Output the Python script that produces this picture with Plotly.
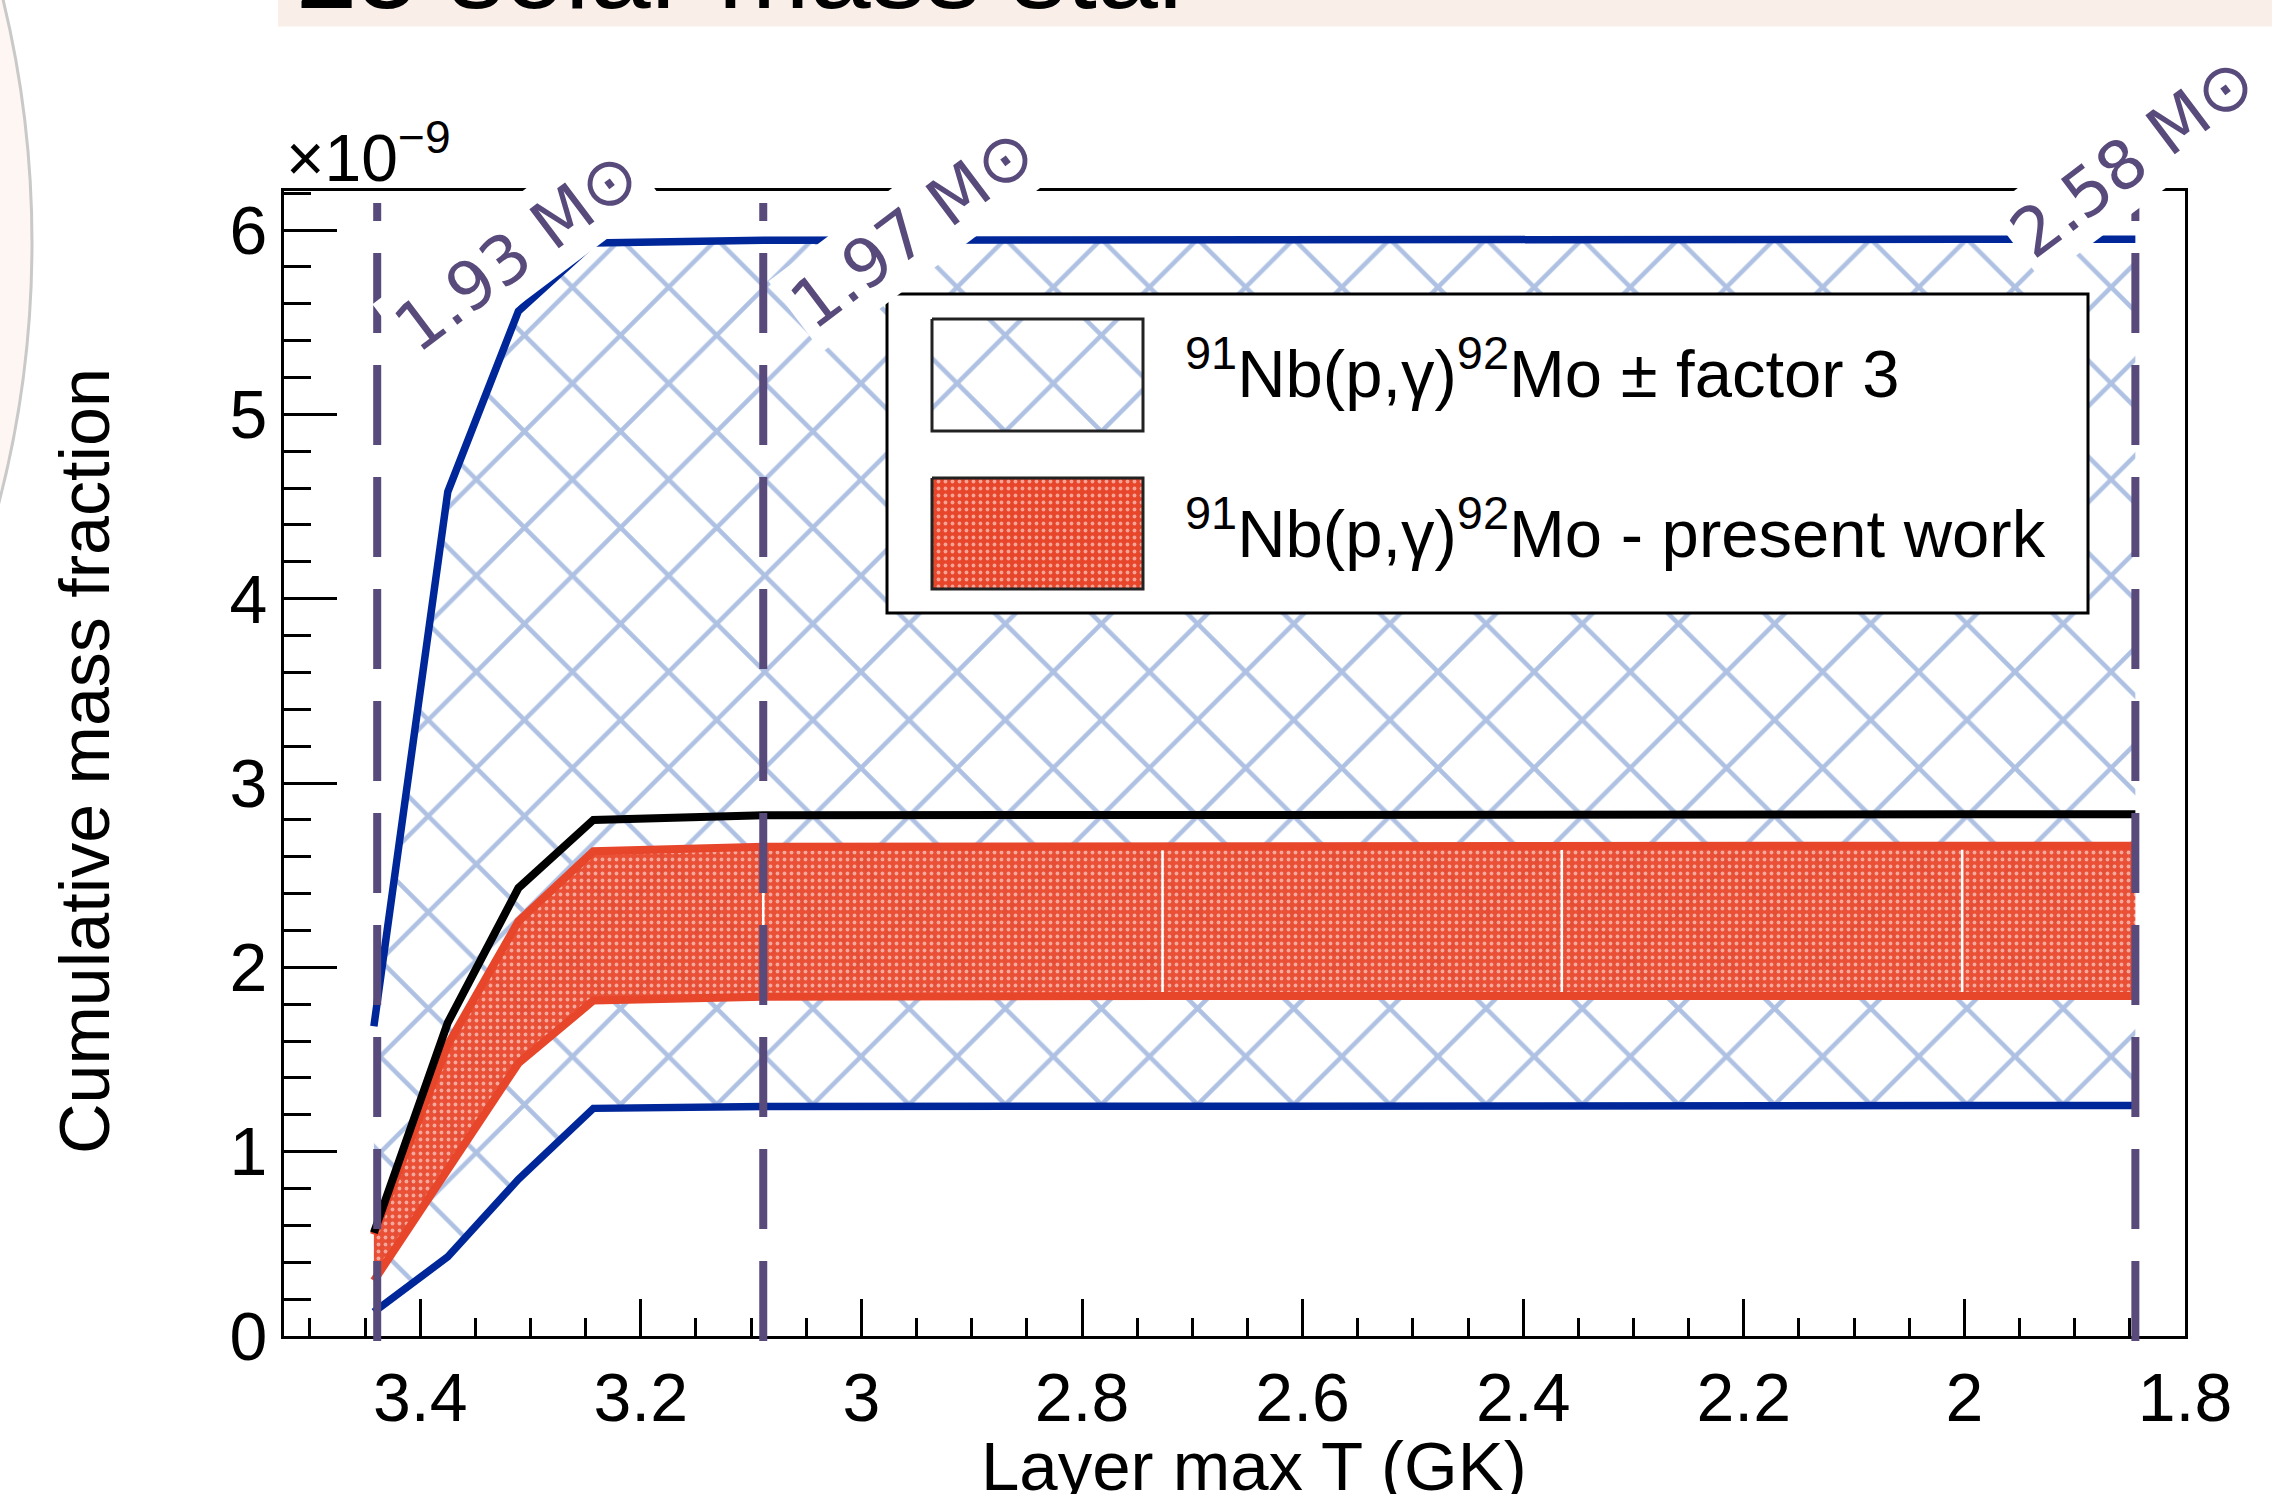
import plotly.graph_objects as go

# ---------------- data ----------------
temp_gk = [3.442, 3.375, 3.311, 3.243, 3.089, 2.727, 2.365, 2.002, 1.845]
factor3_hi = [1.68, 4.58, 5.56, 5.93, 5.945, 5.95, 5.95, 5.95, 5.95]
factor3_lo = [0.13, 0.43, 0.85, 1.235, 1.245, 1.25, 1.25, 1.25, 1.25]
previous_rate = [0.56, 1.70, 2.43, 2.80, 2.825, 2.83, 2.83, 2.83, 2.83]
present_hi = [0.55, 1.58, 2.25, 2.63, 2.655, 2.66, 2.66, 2.66, 2.66]
present_lo = [0.30, 0.90, 1.48, 1.82, 1.84, 1.845, 1.845, 1.845, 1.845]

mass_temp = [3.439, 3.089, 1.845]
mass_labels = ["1.93 M\u2299", "1.97 M\u2299", "2.58 M\u2299"]

legend_labels = ["<sup>91</sup>Nb(p,\u03b3)<sup>92</sup>Mo \u00b1 factor 3",
                 "<sup>91</sup>Nb(p,\u03b3)<sup>92</sup>Mo - present work"]

x_title = "Layer max T (GK)"
y_title = "Cumulative mass fraction"
title_text = "25 solar mass star"

# ---------------- layout geometry (pixels) ----------------
W, H = 2272, 1494
L, R, T, B = 284, 2185, 191, 1336


def px_x(px):
    return (px - L) / (R - L)


def px_y(py):
    return (B - py) / (B - T)


FONT = "Liberation Sans, Arial, Helvetica, sans-serif"
BLUE = "#00279a"
HATCH = "#5f84c8"
RED = "#e8462b"
MARK = "#584a7b"

HATCH_PATTERN = dict(shape="x", fgcolor=HATCH, size=68, solidity=0.13)
DOT_PATTERN = dict(shape=".", fgcolor="white", size=7, solidity=0.24)

fig = go.Figure()

# factor 3 band (hatched)
fig.add_trace(go.Scatter(x=temp_gk, y=factor3_lo, mode="lines",
                         line=dict(width=0), showlegend=False, hoverinfo="skip"))
fig.add_trace(go.Scatter(x=temp_gk, y=factor3_hi, mode="lines", fill="tonexty",
                         fillcolor="rgba(0,0,0,0)",
                         fillpattern=dict(HATCH_PATTERN, bgcolor="rgba(255,255,255,0)"),
                         line=dict(width=0), showlegend=False, hoverinfo="skip"))
# present work band (dotted red)
fig.add_trace(go.Scatter(x=temp_gk, y=present_lo, mode="lines",
                         line=dict(width=0), showlegend=False, hoverinfo="skip"))
fig.add_trace(go.Scatter(x=temp_gk, y=present_hi, mode="lines", fill="tonexty",
                         fillcolor="rgba(232,70,43,0.95)",
                         fillpattern=dict(DOT_PATTERN, bgcolor="rgba(232,70,43,0.95)"),
                         line=dict(width=0), showlegend=False, hoverinfo="skip"))
# thin white separators inside the red band
gx, gy = [], []
for i in range(4, 8):
    gx += [temp_gk[i], temp_gk[i], None]
    gy += [present_lo[i], present_hi[i], None]
fig.add_trace(go.Scatter(x=gx, y=gy, mode="lines", line=dict(color="white", width=2.5),
                         showlegend=False, hoverinfo="skip"))
# band edges
for yy in (present_lo, present_hi):
    fig.add_trace(go.Scatter(x=temp_gk, y=yy, mode="lines", line=dict(color=RED, width=8),
                             showlegend=False, hoverinfo="skip"))
for yy in (factor3_lo, factor3_hi):
    fig.add_trace(go.Scatter(x=temp_gk, y=yy, mode="lines", line=dict(color=BLUE, width=7.5),
                             showlegend=False, hoverinfo="skip"))
fig.add_trace(go.Scatter(x=temp_gk, y=previous_rate, mode="lines",
                         line=dict(color="black", width=8), showlegend=False, hoverinfo="skip"))

# ---------------- legend box drawn on a pixel overlay axis ----------------
LB = (887, 294, 2088, 613)
SW = [(932, 319, 1143, 431), (932, 478, 1143, 589)]


def rect(b):
    x0, y0, x1, y1 = b
    return [x0, x1, x1, x0, x0], [y0, y0, y1, y1, y0]


bx, by = rect(LB)
fig.add_trace(go.Scatter(x=bx, y=by, xaxis="x2", yaxis="y2", mode="lines", fill="toself",
                         fillcolor="white", line=dict(color="black", width=3),
                         showlegend=False, hoverinfo="skip"))
sx, sy = rect(SW[0])
fig.add_trace(go.Scatter(x=sx, y=sy, xaxis="x2", yaxis="y2", mode="lines", fill="toself",
                         fillcolor="rgba(0,0,0,0)",
                         fillpattern=dict(HATCH_PATTERN, bgcolor="white"),
                         line=dict(color="#222222", width=3), showlegend=False, hoverinfo="skip"))
sx, sy = rect(SW[1])
fig.add_trace(go.Scatter(x=sx, y=sy, xaxis="x2", yaxis="y2", mode="lines", fill="toself",
                         fillcolor=RED,
                         fillpattern=dict(DOT_PATTERN, bgcolor=RED),
                         line=dict(color="#222222", width=3), showlegend=False, hoverinfo="skip"))

annotations = []
for lab, base in zip(legend_labels, (397, 557)):
    annotations.append(dict(text=lab, xref="x2", yref="y2", x=1183, y=base + 16,
                            xanchor="left", yanchor="bottom", showarrow=False,
                            font=dict(family=FONT, size=67, color="black")))

# vertical dashed mass-coordinate markers and their labels
shapes = []
offsets = [139.7, 149.8, -2.4]
label_y = [251, 228, 157]
for xm, lab, dx, ly in zip(mass_temp, mass_labels, offsets, label_y):
    shapes.append(dict(type="line", xref="x", yref="paper", x0=xm, x1=xm,
                       y0=px_y(1341), y1=px_y(203), layer="above",
                       line=dict(color=MARK, width=8, dash="80px,32px")))
    annotations.append(dict(text=lab, xref="x", yref="paper", x=xm, y=px_y(ly), xshift=dx,
                            xanchor="center", yanchor="middle", textangle=-37,
                            showarrow=False, bgcolor="white", borderpad=5,
                            font=dict(family="DejaVu Sans, sans-serif", size=67, color=MARK)))

# exponent label
annotations.append(dict(text="\u00d710<sup>\u22129</sup>", xref="paper", yref="paper",
                        x=px_x(284), y=px_y(197), xanchor="left", yanchor="bottom",
                        showarrow=False, font=dict(family=FONT, size=66, color="black")))
# axis titles
annotations.append(dict(text=y_title, xref="paper", yref="paper", x=px_x(85), y=px_y(761),
                        xanchor="center", yanchor="middle", textangle=-90, showarrow=False,
                        font=dict(family=FONT, size=70, color="black")))
annotations.append(dict(text=x_title, xref="paper", yref="paper", x=px_x(1254), y=px_y(1507),
                        xanchor="center", yanchor="bottom", showarrow=False,
                        font=dict(family=FONT, size=69, color="black")))
# slide title (cut off at top)
shapes.append(dict(type="rect", xref="paper", yref="paper", x0=px_x(278), x1=px_x(2280),
                   y0=px_y(26.5), y1=px_y(-5), fillcolor="#faeee9", line=dict(width=0),
                   layer="below"))
annotations.append(dict(text=title_text, xref="paper", yref="paper", x=px_x(294), y=px_y(33),
                        xanchor="left", yanchor="bottom", showarrow=False,
                        font=dict(family=FONT, size=110, color="black")))
# slide decoration: large circle edge on the left
cx, cy, rr = -1000.6, 243, 1032.6
shapes.append(dict(type="circle", xref="paper", yref="paper",
                   x0=px_x(cx - rr), x1=px_x(cx + rr), y0=px_y(cy + rr), y1=px_y(cy - rr),
                   fillcolor="#fdf6f2", line=dict(color="#c9c9c9", width=3), layer="below"))

fig.update_layout(
    width=W, height=H, autosize=False,
    margin=dict(l=L, r=W - R, t=T, b=H - B, pad=0, autoexpand=False),
    paper_bgcolor="white", plot_bgcolor="white",
    showlegend=False,
    shapes=shapes, annotations=annotations,
    xaxis=dict(range=[3.5235, 1.8], showgrid=False, zeroline=False,
               showline=True, mirror=True, linecolor="black", linewidth=3,
               ticks="inside", ticklen=37, tickwidth=2.5, tickcolor="black",
               tick0=0, dtick=0.2, automargin=False,
               tickfont=dict(family=FONT, size=68, color="black"),
               minor=dict(ticks="inside", dtick=0.05, ticklen=18, tickwidth=2.5,
                          tickcolor="black", showgrid=False)),
    yaxis=dict(range=[0, 6.212], showgrid=False, zeroline=False,
               showline=True, mirror=True, linecolor="black", linewidth=3,
               ticks="inside", ticklen=53, tickwidth=2.5, tickcolor="black",
               tick0=0, dtick=1, automargin=False,
               tickfont=dict(family=FONT, size=68, color="black"),
               minor=dict(ticks="inside", dtick=0.2, ticklen=27, tickwidth=2.5,
                          tickcolor="black", showgrid=False)),
    xaxis2=dict(overlaying="x", range=[L, R], visible=False, fixedrange=True),
    yaxis2=dict(overlaying="y", range=[B, T], visible=False, fixedrange=True),
)

fig.write_html("out.html", config={"displayModeBar": False},
               post_script="document.body.style.margin='0px';document.body.style.overflow='hidden';")
